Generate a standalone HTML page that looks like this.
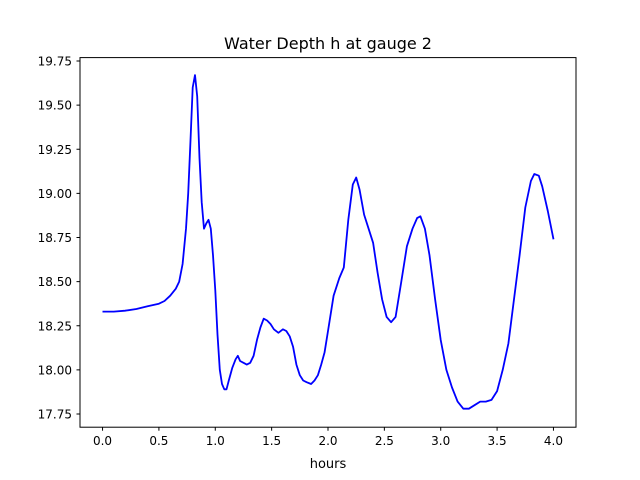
<!DOCTYPE html>
<html><head><meta charset="utf-8"><style>
body{margin:0;background:#fff;}
svg{display:block;font-family:"DejaVu Sans","Liberation Sans",sans-serif;}
</style></head><body>
<svg id="chart" width="640" height="480">
<rect x="0" y="0" width="640" height="480" fill="#fff"/>
<text x="328" y="49" font-size="16" text-anchor="middle">Water Depth h at gauge 2</text>
<g id="plot"></g>
<rect x="80" y="57.6" width="496" height="369.6" fill="none" stroke="#000" stroke-width="1"/>
<text x="328" y="468" font-size="13" text-anchor="middle">hours</text>
</svg>
<script>
const hours=[0,0.1,0.2,0.3,0.4,0.5,0.55,0.6,0.65,0.68,0.71,0.74,0.76,0.78,0.8,0.82,0.84,0.86,0.88,0.9,0.92,0.94,0.96,0.98,1.0,1.02,1.04,1.06,1.08,1.1,1.12,1.15,1.18,1.2,1.22,1.25,1.28,1.31,1.34,1.37,1.4,1.43,1.46,1.49,1.52,1.56,1.6,1.63,1.66,1.69,1.72,1.75,1.78,1.81,1.85,1.88,1.91,1.94,1.97,2.0,2.05,2.1,2.14,2.18,2.22,2.25,2.28,2.32,2.36,2.4,2.44,2.48,2.52,2.56,2.6,2.65,2.7,2.75,2.79,2.82,2.86,2.9,2.95,3.0,3.05,3.1,3.15,3.2,3.25,3.3,3.35,3.4,3.45,3.5,3.55,3.6,3.65,3.7,3.75,3.8,3.83,3.87,3.9,3.95,4.0];
const depth=[18.33,18.33,18.335,18.345,18.36,18.375,18.39,18.42,18.46,18.5,18.6,18.8,19.0,19.3,19.6,19.67,19.55,19.2,18.95,18.8,18.83,18.85,18.8,18.65,18.45,18.2,18.0,17.92,17.89,17.89,17.94,18.01,18.06,18.08,18.05,18.04,18.03,18.04,18.08,18.17,18.24,18.29,18.28,18.26,18.23,18.21,18.23,18.22,18.19,18.13,18.03,17.97,17.94,17.93,17.92,17.94,17.97,18.03,18.1,18.22,18.42,18.52,18.58,18.85,19.05,19.09,19.02,18.88,18.8,18.72,18.55,18.4,18.3,18.27,18.3,18.5,18.7,18.8,18.86,18.87,18.8,18.65,18.4,18.17,18.0,17.9,17.82,17.78,17.78,17.8,17.82,17.82,17.83,17.88,18.0,18.15,18.4,18.65,18.92,19.07,19.11,19.1,19.04,18.9,18.74];
const xTicks=[0,0.5,1,1.5,2,2.5,3,3.5,4];
const xTickLabels=["0.0","0.5","1.0","1.5","2.0","2.5","3.0","3.5","4.0"];
const yTicks=[17.75,18,18.25,18.5,18.75,19,19.25,19.5,19.75];
const yTickLabels=["17.75","18.00","18.25","18.50","18.75","19.00","19.25","19.50","19.75"];
const X=v=>80+(v+0.2)/4.4*496;
const Y=v=>61-(v-19.75)*176.5;
const NS="http://www.w3.org/2000/svg";
const g=document.getElementById('plot');
xTicks.forEach((t,i)=>{
  const l=document.createElementNS(NS,'line');
  l.setAttribute('x1',X(t));l.setAttribute('x2',X(t));l.setAttribute('y1',427.2);l.setAttribute('y2',430.7);l.setAttribute('stroke','#000');
  
  
  g.appendChild(l);
  const tx=document.createElementNS(NS,'text');
  tx.setAttribute('x',X(t));tx.setAttribute('y',445);tx.setAttribute('font-size','12');tx.setAttribute('text-anchor','middle');
  tx.textContent=xTickLabels[i];
  
  
  g.appendChild(tx);
});
yTicks.forEach((t,i)=>{
  const l=document.createElementNS(NS,'line');
  l.setAttribute('x1',76.5);l.setAttribute('x2',80);l.setAttribute('y1',Y(t));l.setAttribute('y2',Y(t));l.setAttribute('stroke','#000');
  
  
  g.appendChild(l);
  const tx=document.createElementNS(NS,'text');
  tx.setAttribute('x',72);tx.setAttribute('y',Y(t)+4.5);tx.setAttribute('font-size','12');tx.setAttribute('text-anchor','end');
  tx.textContent=yTickLabels[i];
  
  
  g.appendChild(tx);
});
const p=document.createElementNS(NS,'polyline');
p.setAttribute('points',hours.map((h,i)=>X(h).toFixed(1)+','+Y(depth[i]).toFixed(1)).join(' '));
p.setAttribute('fill','none');p.setAttribute('stroke','#0000ff');p.setAttribute('stroke-width','1.8');p.setAttribute('stroke-linejoin','round');


g.appendChild(p);
</script>
</body></html>
